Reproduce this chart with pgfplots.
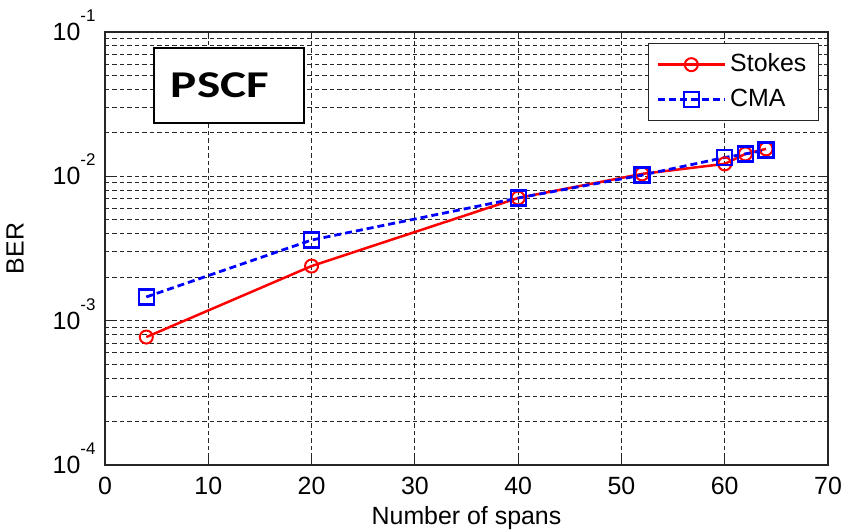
\documentclass[border=0pt]{standalone}
\usepackage{pgfplots}
\pgfplotsset{compat=1.18}
\usepackage{fontspec}
\setmainfont{Liberation Sans}
\newfontfamily\carlito{Carlito}
\newcommand{\tenpow}[1]{10\raisebox{19bp}[0pt][0pt]{\fontsize{17}{17}\selectfont #1}}
\begin{document}
\begin{tikzpicture}
\begin{axis}[
  scale only axis,
  width=723bp, height=433bp,
  xmin=0, xmax=70,
  ymode=log, ymin=1e-4, ymax=1e-1,
  xtick={0,10,...,70},
  ytick={1e-4,1e-3,1e-2,1e-1},
  yticklabels={\tenpow{-4},\tenpow{-3},\tenpow{-2},\tenpow{-1}},
  minor x tick num=0,
  grid=both,
  major grid style={black!85, line width=1bp, dash pattern=on 4.5bp off 3bp},
  minor grid style={black!85, line width=1bp, dash pattern=on 4.5bp off 3bp},
  tick align=inside, tick pos=both,
  major tick length=7bp, minor tick length=4bp,
  axis line style={black!85, line width=1.5bp},
  every tick/.style={black!85, line width=1bp},
  /pgf/number format/assume math mode=true,
  tick label style={font=\fontsize{25}{30}\selectfont},
  xticklabel style={yshift=-9bp},
  yticklabel style={xshift=-6bp},
  xlabel={Number of spans},
  ylabel={BER},
  every axis x label/.style={at={(axis description cs:0.5,0)},yshift=-53bp,anchor=center,font=\fontsize{25}{30}\selectfont},
  every axis y label/.style={at={(axis description cs:0,0.5)},xshift=-90bp,rotate=90,anchor=center,font=\fontsize{25}{30}\selectfont},
  legend cell align=left,
  legend style={at={(rel axis cs:0.9876,0.9746)}, anchor=north east, draw=black!85, line width=1.3bp,
    font=\fontsize{25}{30}\selectfont, inner xsep=8bp, inner ysep=3.5bp, row sep=0bp,
    nodes={text height=18bp, text depth=5bp, inner xsep=4bp, inner ysep=6bp}},
  legend image code/.code={\draw[mark repeat=2,mark phase=2,#1] plot coordinates {(0bp,0bp) (33.5bp,0bp) (67bp,0bp)};},
]
\addplot[red, line width=2.5bp, mark=o, mark size=6.5bp, mark options={solid, line width=2bp}]
  coordinates {(4,7.7e-4) (20,2.39e-3) (40,7.08e-3) (52,1.04e-2) (60,1.22e-2) (62,1.43e-2) (64,1.55e-2)};
\addlegendentry{Stokes}
\addplot[blue, line width=2.8bp, dash pattern=on 7bp off 4bp, mark=square, mark size=7.5bp, mark options={solid, line width=2.2bp}]
  coordinates {(4,1.46e-3) (20,3.62e-3) (40,7.08e-3) (52,1.02e-2) (60,1.35e-2) (62,1.43e-2) (64,1.52e-2)};
\addlegendentry{CMA}
\node[draw=black, line width=2bp, fill=white, minimum width=150bp, minimum height=75bp, inner sep=0pt]
  at (rel axis cs:0.1715,0.876) {\carlito\bfseries\fontsize{38}{38}\selectfont\scalebox{1.3}[1]{PSCF}\hspace*{18bp}};
\coordinate (O) at (rel axis cs:0,0);
\coordinate (T) at (rel axis cs:1,1);
\end{axis}
\pgfresetboundingbox
\path[use as bounding box] ([shift={(-105bp,-65bp)}]O) rectangle ([shift={(16bp,32bp)}]T);
\end{tikzpicture}
\end{document}
